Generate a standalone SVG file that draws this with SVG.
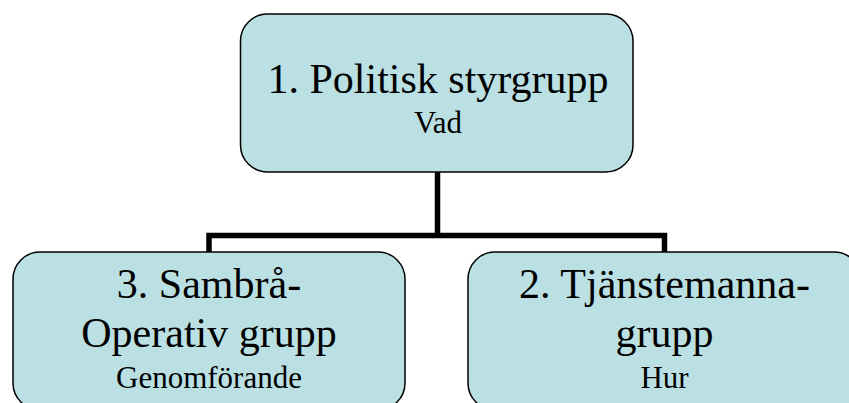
<svg xmlns="http://www.w3.org/2000/svg" width="849" height="403" viewBox="0 0 849 403">
  <style>
    .box { fill: #BBE0E3; stroke: #000000; stroke-width: 1.5; }
    .big { font-family: "Liberation Serif", "Times New Roman", serif; font-size: 42px; fill: #000000; text-anchor: middle; }
    .small { font-family: "Liberation Serif", "Times New Roman", serif; font-size: 31px; fill: #000000; text-anchor: middle; }
    .conn { fill: none; stroke: #000000; stroke-width: 5.5; stroke-linejoin: miter; stroke-linecap: butt; }
  </style>
  <rect width="849" height="403" fill="#FFFFFF"/>
  <g id="connectors">
    <path class="conn" d="M437.5,172 L437.5,235.5"/>
    <path class="conn" d="M209,252 L209,235.5 L664.5,235.5 L664.5,252"/>
  </g>
  <g id="node1">
    <rect class="box" x="240.5" y="14" width="392.5" height="158" rx="27" ry="27"/>
    <text class="big" x="438" y="93">1. Politisk styrgrupp</text>
    <text class="small" x="438" y="133">Vad</text>
  </g>
  <g id="node3">
    <rect class="box" x="13" y="252" width="392" height="158" rx="27" ry="27"/>
    <text class="big" x="209" y="298">3. Sambrå-</text>
    <text class="big" x="209" y="347">Operativ grupp</text>
    <text class="small" x="209" y="387.5">Genomförande</text>
  </g>
  <g id="node2">
    <rect class="box" x="468" y="252" width="393" height="158" rx="27" ry="27"/>
    <text class="big" x="664.5" y="298">2. Tjänstemanna-</text>
    <text class="big" x="664.5" y="347">grupp</text>
    <text class="small" x="664.5" y="387.5">Hur</text>
  </g>
</svg>
